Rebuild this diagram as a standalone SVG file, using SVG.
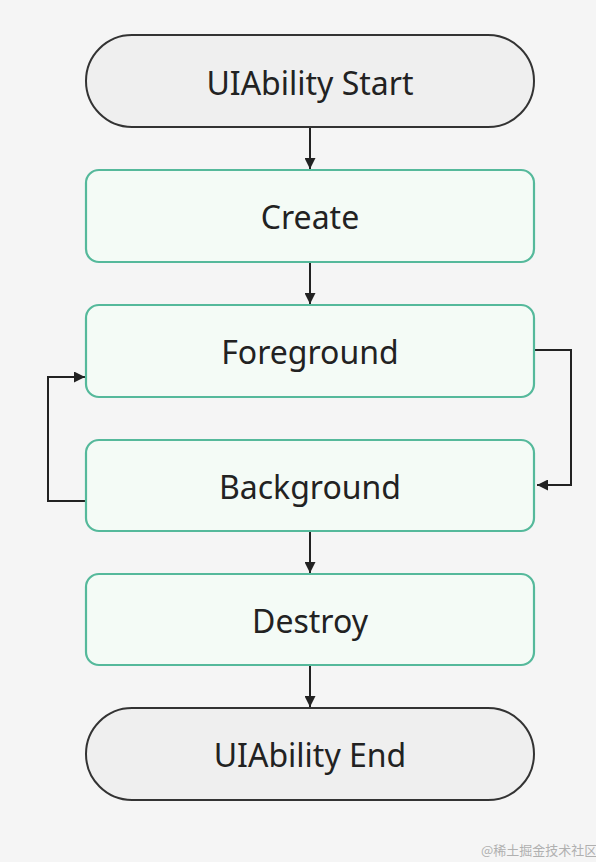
<svg xmlns="http://www.w3.org/2000/svg" width="596" height="862" viewBox="0 0 596 862">
<style>
.pill{fill:#efefef;stroke:#333;stroke-width:2}
.box{fill:#f4fbf6;stroke:#55b99b;stroke-width:2.2}
.lbl{font-family:"Noto Sans",sans-serif;font-size:32px;fill:#222;text-anchor:middle;dominant-baseline:central}
.edge{fill:none;stroke:#222;stroke-width:2}
.wm{font-family:"Noto Sans CJK SC",sans-serif;font-size:13px;fill:#b0b0b0}
</style>
<defs>
<marker id="ah" viewBox="0 0 10 10" refX="10" refY="5" markerWidth="5.5" markerHeight="5.5" orient="auto">
<path d="M0,0 L10,5 L0,10 Z" fill="#222"/>
</marker>
</defs>
<rect width="596" height="862" fill="#f5f5f5"/>
<g id="connectors">
<line class="edge" x1="310" y1="127" x2="310" y2="169" marker-end="url(#ah)"/>
<line class="edge" x1="310" y1="262" x2="310" y2="304" marker-end="url(#ah)"/>
<line class="edge" x1="310" y1="531" x2="310" y2="573" marker-end="url(#ah)"/>
<line class="edge" x1="310" y1="665" x2="310" y2="707" marker-end="url(#ah)"/>
<polyline class="edge" points="534,350 571,350 571,485 537,485" marker-end="url(#ah)"/>
<polyline class="edge" points="86,501 48,501 48,377 85,377" marker-end="url(#ah)"/>
</g>
<g id="start"><rect class="pill" x="86" y="35" width="448" height="92" rx="46"/><text class="lbl" x="310" y="82">UIAbility Start</text></g>
<g id="create"><rect class="box" x="86" y="170" width="448" height="92" rx="13"/><text class="lbl" x="310" y="216">Create</text></g>
<g id="foreground"><rect class="box" x="86" y="305" width="448" height="92" rx="13"/><text class="lbl" x="310" y="351">Foreground</text></g>
<g id="background"><rect class="box" x="86" y="440" width="448" height="91" rx="13"/><text class="lbl" x="310" y="486">Background</text></g>
<g id="destroy"><rect class="box" x="86" y="574" width="448" height="91" rx="13"/><text class="lbl" x="310" y="620">Destroy</text></g>
<g id="end"><rect class="pill" x="86" y="708" width="448" height="92" rx="46"/><text class="lbl" x="310" y="754">UIAbility End</text></g>
<text class="wm" x="481" y="855">@稀土掘金技术社区</text>
</svg>
